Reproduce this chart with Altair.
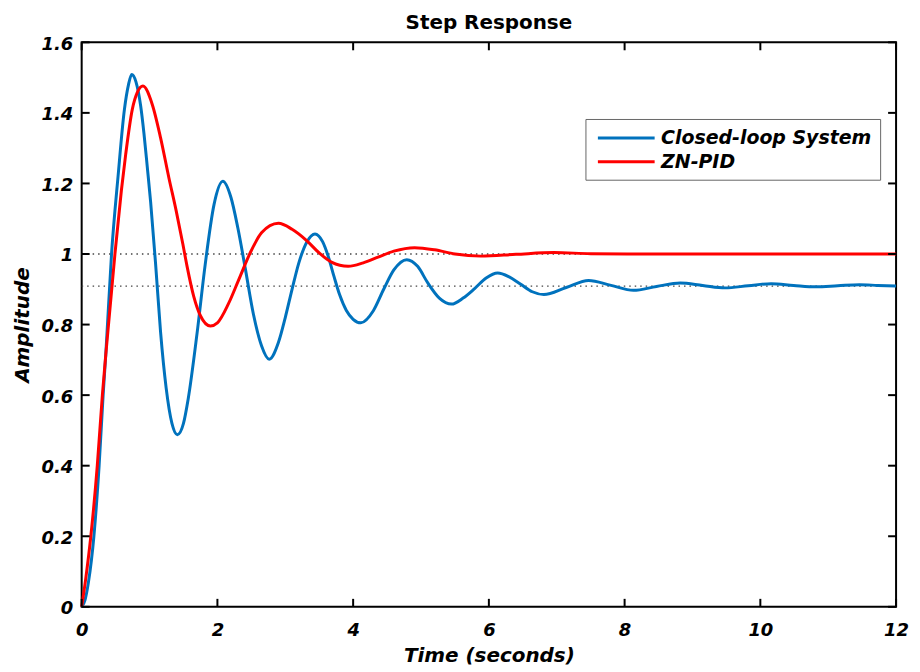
import altair as alt
import pandas as pd

# ---------------- data ----------------
title_text = ["Step Response"]
series_names = ["Closed-loop System", "ZN-PID"]
series_colors = ["#0072BD", "#FF0000"]

t_cl = [0, 0.05, 0.1, 0.18, 0.257, 0.316, 0.355, 0.44, 0.536, 0.63, 0.69, 0.737,
        0.8, 0.869, 0.917, 0.97, 1.016, 1.09, 1.162, 1.245, 1.33, 1.41,
        1.50, 1.57, 1.70, 1.82, 1.95, 2.08,
        2.2, 2.3, 2.41, 2.53, 2.65, 2.763,
        2.9, 3.0, 3.1, 3.2, 3.32, 3.438,
        3.55, 3.63, 3.72, 3.8, 3.9, 4.0, 4.113,
        4.3, 4.45, 4.6, 4.79, 4.95, 5.1, 5.27, 5.45,
        5.62, 5.79, 5.96, 6.13, 6.3, 6.47, 6.64, 6.81,
        7.14, 7.47, 7.8, 8.13, 8.47, 8.82, 9.15, 9.48, 9.82, 10.16, 10.49, 10.82,
        11.14, 11.46, 11.73, 12]
y_cl = [0, 0.02, 0.07, 0.2, 0.4, 0.6, 0.714, 1.0, 1.22, 1.41, 1.48, 1.509,
        1.488, 1.42, 1.343, 1.24, 1.148, 0.97, 0.78, 0.62, 0.52, 0.488,
        0.52, 0.59, 0.775, 0.97, 1.14, 1.206,
        1.16, 1.075, 0.96, 0.83, 0.74, 0.702,
        0.75, 0.82, 0.90, 0.975, 1.035, 1.057,
        1.035, 0.995, 0.935, 0.885, 0.84, 0.815, 0.805,
        0.84, 0.9, 0.955, 0.984, 0.965, 0.918, 0.875, 0.858,
        0.875, 0.902, 0.932, 0.946, 0.935, 0.914, 0.893, 0.885,
        0.905, 0.925, 0.911, 0.897, 0.908, 0.918, 0.911, 0.904, 0.91, 0.916, 0.911, 0.907,
        0.91, 0.913, 0.911, 0.909]

t_zn = [0, 0.06, 0.135, 0.23, 0.305, 0.355, 0.49, 0.585, 0.649, 0.746, 0.82, 0.903,
        1.04, 1.162, 1.284, 1.392, 1.49, 1.553, 1.651, 1.75, 1.896, 2.0, 2.165, 2.312,
        2.5, 2.65, 2.899, 3.1, 3.315, 3.5, 3.68, 3.927, 4.15, 4.367, 4.6, 4.905,
        5.2, 5.5, 5.88, 6.4, 6.96, 7.5, 8.5, 10, 12]
y_zn = [0, 0.08, 0.2, 0.4, 0.6, 0.714, 1.0, 1.18, 1.283, 1.41, 1.458, 1.476,
        1.424, 1.33, 1.217, 1.123, 1.029, 0.965, 0.88, 0.825, 0.796, 0.805, 0.86, 0.926,
        1.01, 1.06, 1.087, 1.07, 1.038, 1.003, 0.977, 0.965, 0.975, 0.991, 1.008, 1.018,
        1.012, 1.0, 0.994, 0.999, 1.004, 1.001, 1.0, 1.0, 1.0]

steady_values = [1.0, 0.909]
x_ticks = [0, 2, 4, 6, 8, 10, 12]
y_ticks = [0, 0.2, 0.4, 0.6, 0.8, 1.0, 1.2, 1.4, 1.6]

# ---------------- tables ----------------
df_lines = pd.concat([
    pd.DataFrame({"t": t_cl, "amp": y_cl, "series": series_names[0]}),
    pd.DataFrame({"t": t_zn, "amp": y_zn, "series": series_names[1]}),
], ignore_index=True)
df_steady = pd.DataFrame({"amp": steady_values})
df_xt = pd.DataFrame({"t": x_ticks})
df_yt = pd.DataFrame({"amp": y_ticks})
df_title = pd.DataFrame({"label": title_text})

W, H = 818, 567
FONT = "DejaVu Sans"

x_axis = alt.Axis(values=x_ticks, format="~g", grid=False, ticks=False, domain=False,
                  labelFont=FONT, labelFontSize=18, labelFontWeight="bold",
                  labelFontStyle="italic", labelColor="black", labelPadding=15,
                  labelFlush=False,
                  title="Time (seconds)", titleFont=FONT, titleFontSize=20,
                  titleFontWeight="bold", titleFontStyle="italic", titleColor="black",
                  titleY=55, titleBaseline="alphabetic")
y_axis = alt.Axis(values=y_ticks, format="~g", grid=False, ticks=False, domain=False,
                  labelFont=FONT, labelFontSize=18, labelFontWeight="bold",
                  labelFontStyle="italic", labelColor="black", labelPadding=9,
                  labelOffset=2,
                  title="Amplitude", titleFont=FONT, titleFontSize=20,
                  titleFontWeight="bold", titleFontStyle="italic", titleColor="black",
                  titleAngle=270, titleX=-53, titleY=H / 2, titleAlign="center",
                  titleBaseline="alphabetic")

X = alt.X("t:Q", scale=alt.Scale(domain=[0, 12], nice=False, zero=False), axis=x_axis)
Y = alt.Y("amp:Q", scale=alt.Scale(domain=[0, 1.6], nice=False, zero=False), axis=y_axis)

steady = alt.Chart(df_steady).mark_rule(
    color="#444", strokeWidth=1.3, strokeDash=[1.5, 4]
).encode(y=Y, x=alt.value(0), x2=alt.value(W))

lines = alt.Chart(df_lines).mark_line(
    strokeWidth=3, interpolate="monotone"
).encode(
    x=X, y=Y,
    color=alt.Color("series:N",
                    scale=alt.Scale(domain=series_names, range=series_colors),
                    legend=alt.Legend(title=None, orient="none", legendX=506, legendY=77,
                                      fillColor="white", strokeColor="#666",
                                      padding=8, symbolType="M-3,0H3",
                                      symbolSize=361, symbolStrokeWidth=3,
                                      symbolOffset=22, labelOffset=24,
                                      labelFont=FONT, labelFontSize=19,
                                      labelFontWeight="bold", labelFontStyle="italic",
                                      labelColor="black", rowPadding=3,
                                      labelLimit=400)),
    order=alt.Order("series:N"),
)

tick_len = 8
xt_bottom = alt.Chart(df_xt).mark_rule(color="black", strokeWidth=2).encode(
    x=X, y=alt.value(H), y2=alt.value(H - tick_len))
xt_top = alt.Chart(df_xt).mark_rule(color="black", strokeWidth=2).encode(
    x=X, y=alt.value(0), y2=alt.value(tick_len))
yt_left = alt.Chart(df_yt).mark_rule(color="black", strokeWidth=2).encode(
    y=Y, x=alt.value(0), x2=alt.value(tick_len))
yt_right = alt.Chart(df_yt).mark_rule(color="black", strokeWidth=2).encode(
    y=Y, x=alt.value(W), x2=alt.value(W - tick_len))

title = alt.Chart(df_title).mark_text(
    font=FONT, fontSize=20, fontWeight="bold", color="black",
    align="center", baseline="alphabetic"
).encode(text="label:N", x=alt.value(W / 2), y=alt.value(-13))

chart = alt.layer(steady, lines, xt_bottom, xt_top, yt_left, yt_right, title).properties(
    width=W, height=H,
    autosize=alt.AutoSizeParams(type="none"),
    padding={"left": 74, "top": 33, "right": 16, "bottom": 64},
    background="white",
).configure_view(stroke="black", strokeWidth=2)

chart.save("out.html", embed_options={"renderer": "svg", "actions": False})
